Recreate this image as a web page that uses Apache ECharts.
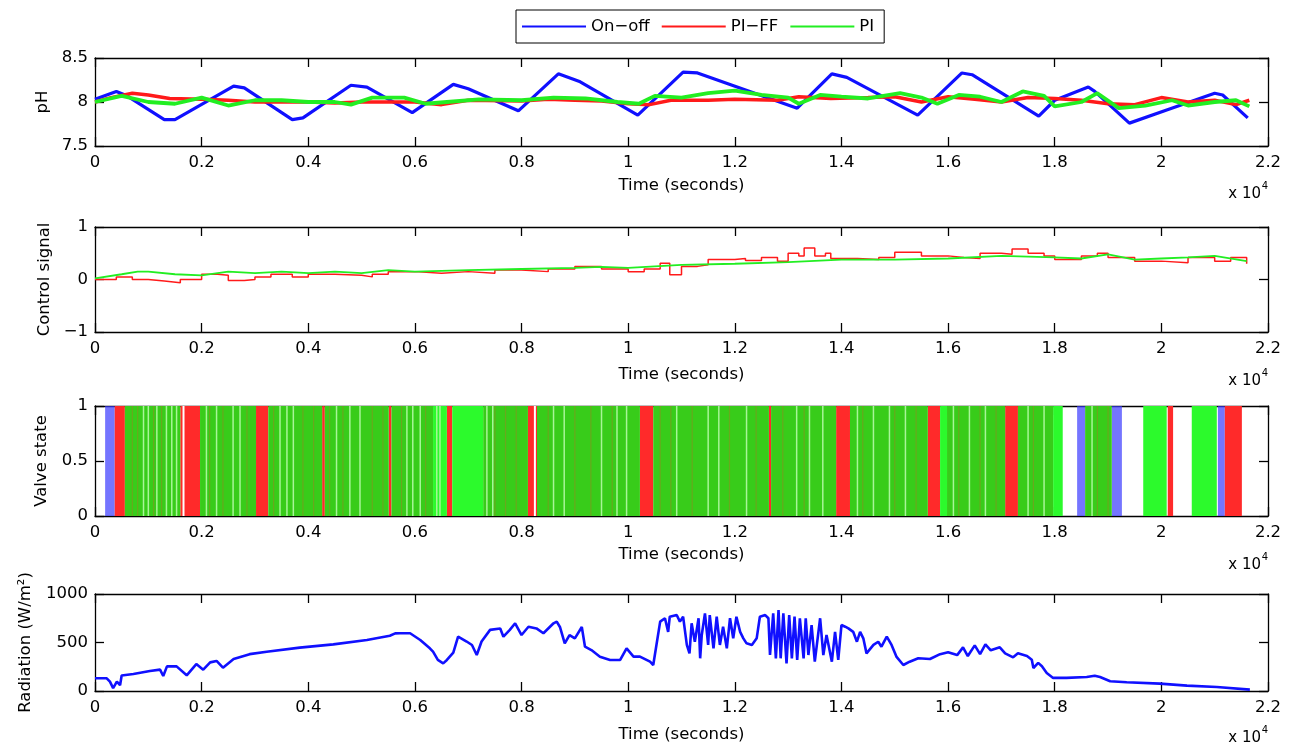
<!DOCTYPE html>
<html><head><meta charset="utf-8">
<script src="https://cdn.jsdelivr.net/npm/echarts@6/dist/echarts.min.js"></script>
<style>html,body{margin:0;padding:0;background:#fff}#c{width:1292px;height:748px}</style>
</head><body><div id="c"></div>
<script>
// ---------- DATA (time in units of 10^4 s) ----------
const seriesNames = ['On\u2212off', 'PI\u2212FF', 'PI'];
const xTickLabels = ['0','0.2','0.4','0.6','0.8','1','1.2','1.4','1.6','1.8','2','2.2'];

const phOnOff = [[0,8.03],[0.04,8.12],[0.06,8.07],[0.13,7.8],[0.15,7.8],[0.26,8.18],[0.28,8.16],[0.37,7.8],[0.39,7.82],[0.48,8.19],[0.51,8.17],[0.595,7.88],[0.672,8.2],[0.70,8.15],[0.794,7.9],[0.869,8.32],[0.91,8.23],[1.018,7.85],[1.103,8.34],[1.13,8.33],[1.317,7.93],[1.382,8.32],[1.41,8.28],[1.543,7.85],[1.626,8.33],[1.645,8.31],[1.77,7.84],[1.80,8.02],[1.863,8.17],[1.875,8.12],[1.94,7.76],[2.01,7.91],[2.10,8.1],[2.115,8.08],[2.162,7.82]];
const phPIFF = [[0,8.0],[0.03,8.05],[0.07,8.1],[0.1,8.08],[0.14,8.04],[0.2,8.03],[0.25,8.02],[0.3,8.0],[0.4,8.0],[0.45,7.99],[0.5,8.0],[0.6,8.0],[0.65,7.97],[0.7,8.02],[0.8,8.01],[0.85,8.03],[0.9,8.02],[0.95,8.01],[1.0,7.98],[1.04,7.97],[1.08,8.02],[1.15,8.02],[1.2,8.03],[1.28,8.02],[1.32,8.06],[1.38,8.04],[1.45,8.05],[1.5,8.06],[1.55,8.0],[1.6,8.06],[1.65,8.03],[1.7,8.0],[1.75,8.05],[1.8,8.04],[1.85,8.02],[1.9,7.98],[1.95,7.97],[2.0,8.05],[2.05,8.0],[2.1,8.02],[2.14,7.97],[2.165,8.02]];
const phPI = [[0,8.0],[0.05,8.07],[0.1,8.0],[0.15,7.98],[0.2,8.05],[0.25,7.96],[0.3,8.02],[0.35,8.02],[0.4,8.0],[0.45,8.0],[0.48,7.97],[0.52,8.05],[0.58,8.05],[0.62,7.98],[0.66,8.0],[0.72,8.03],[0.8,8.02],[0.86,8.05],[0.92,8.04],[0.98,8.0],[1.02,7.98],[1.05,8.07],[1.1,8.05],[1.15,8.1],[1.2,8.13],[1.25,8.08],[1.3,8.05],[1.32,7.98],[1.36,8.08],[1.4,8.06],[1.45,8.04],[1.51,8.1],[1.55,8.05],[1.58,7.98],[1.62,8.08],[1.66,8.06],[1.7,8.0],[1.74,8.12],[1.78,8.07],[1.8,7.95],[1.85,8.0],[1.88,8.1],[1.92,7.93],[1.97,7.96],[2.02,8.02],[2.05,7.96],[2.1,8.0],[2.14,8.02],[2.165,7.95]];

const ctrlPIFF = [[0,0.0],[0.04,0.05],[0.07,0.0],[0.1,-0.03],[0.13,-0.06],[0.16,0.0],[0.2,0.1],[0.23,0.08],[0.25,-0.02],[0.28,0.0],[0.3,0.05],[0.33,0.1],[0.37,0.05],[0.4,0.1],[0.45,0.08],[0.5,0.05],[0.52,0.1],[0.55,0.15],[0.6,0.12],[0.65,0.15],[0.7,0.12],[0.75,0.18],[0.8,0.15],[0.85,0.2],[0.9,0.25],[0.95,0.2],[1.0,0.15],[1.03,0.2],[1.06,0.31],[1.078,0.09],[1.1,0.25],[1.13,0.28],[1.15,0.38],[1.2,0.4],[1.22,0.36],[1.25,0.42],[1.28,0.35],[1.3,0.5],[1.32,0.45],[1.33,0.6],[1.35,0.45],[1.37,0.5],[1.38,0.4],[1.43,0.38],[1.47,0.42],[1.5,0.52],[1.55,0.45],[1.6,0.42],[1.63,0.4],[1.66,0.5],[1.7,0.48],[1.72,0.58],[1.75,0.5],[1.78,0.45],[1.8,0.38],[1.85,0.45],[1.88,0.5],[1.9,0.42],[1.95,0.35],[2.0,0.32],[2.05,0.42],[2.1,0.35],[2.13,0.42],[2.16,0.3]];
const ctrlPI = [[0,0.02],[0.05,0.1],[0.08,0.15],[0.1,0.15],[0.15,0.1],[0.2,0.08],[0.25,0.15],[0.3,0.12],[0.35,0.15],[0.4,0.12],[0.45,0.15],[0.5,0.12],[0.55,0.18],[0.6,0.15],[0.7,0.18],[0.8,0.2],[0.9,0.22],[0.95,0.24],[1.0,0.22],[1.1,0.28],[1.2,0.3],[1.3,0.33],[1.4,0.38],[1.5,0.38],[1.6,0.4],[1.7,0.45],[1.8,0.42],[1.85,0.4],[1.9,0.48],[1.95,0.38],[2.0,0.4],[2.05,0.42],[2.1,0.45],[2.16,0.35]];

// valve state: intervals [start, end] where the valve is switching (drawn as bands)
const valveOnOff = [[0.019,0.037],[1.842,1.857],[1.907,1.926],[2.106,2.119]];
const valvePIFF = [[0.037,0.056],[0.16,0.197],[0.302,0.325],[0.426,0.431],[0.551,0.556],[0.66,0.67],[0.68,0.683],[0.69,0.692],[0.698,0.701],[0.812,0.829],[1.022,1.047],[1.264,1.268],[1.39,1.416],[1.562,1.585],[1.707,1.731],[2.012,2.022],[2.119,2.151]];
const valvePIdense = [[0.056,0.16],[0.197,0.302],[0.325,0.426],[0.431,0.551],[0.556,0.634],[0.728,0.812],[0.829,1.022],[1.047,1.264],[1.268,1.39],[1.416,1.562],[1.598,1.707],[1.731,1.797],[1.857,1.907]];
const valvePIbright = [[0.634,0.66],[0.67,0.728],[1.585,1.598],[1.797,1.815],[1.966,2.01],[2.057,2.104]];
const valveLightStripes = [0.091,0.1,0.116,0.134,0.144,0.153,0.209,0.228,0.259,0.272,0.347,0.36,0.372,0.453,0.478,0.497,0.585,0.596,0.61,0.641,0.647,0.735,0.746,0.86,0.88,0.95,0.979,0.997,1.091,1.15,1.17,1.222,1.316,1.34,1.365,1.43,1.46,1.49,1.52,1.61,1.64,1.67,1.75,1.78,1.87];
const valveDarkStripes = [0.07,0.08,0.11,0.125,0.215,0.24,0.285,0.335,0.39,0.41,0.44,0.465,0.52,0.54,0.575,0.62,0.75,0.77,0.79,0.85,0.9,0.93,0.97,1.06,1.08,1.12,1.19,1.24,1.29,1.33,1.44,1.5,1.54,1.62,1.66,1.69,1.76,1.88,1.9];
const valveWhiteStripes = [0.166,0.825];

const radiation = [[0,131],[0.022,131],[0.028,96],[0.034,30],[0.041,96],[0.047,60],[0.05,160],[0.072,175],[0.103,206],[0.122,220],[0.128,155],[0.135,254],[0.153,254],[0.172,162],[0.19,278],[0.203,220],[0.216,295],[0.228,310],[0.24,240],[0.26,330],[0.29,380],[0.322,405],[0.384,447],[0.447,481],[0.51,526],[0.553,570],[0.563,594],[0.572,595],[0.591,595],[0.61,526],[0.628,440],[0.634,405],[0.643,320],[0.653,285],[0.66,320],[0.672,395],[0.681,560],[0.697,510],[0.707,474],[0.716,371],[0.725,510],[0.741,630],[0.76,645],[0.766,560],[0.778,630],[0.788,698],[0.8,577],[0.813,662],[0.828,645],[0.841,595],[0.86,698],[0.866,715],[0.872,660],[0.881,490],[0.89,577],[0.9,543],[0.913,660],[0.919,457],[0.931,422],[0.947,354],[0.966,320],[0.985,320],[0.997,440],[1.01,354],[1.022,355],[1.041,302],[1.047,268],[1.053,475],[1.06,715],[1.069,750],[1.075,610],[1.078,766],[1.091,783],[1.097,715],[1.103,766],[1.11,475],[1.115,388],[1.119,698],[1.125,508],[1.132,750],[1.135,337],[1.138,577],[1.144,800],[1.15,475],[1.153,783],[1.16,440],[1.166,766],[1.172,475],[1.178,663],[1.185,440],[1.191,750],[1.197,543],[1.203,766],[1.21,610],[1.216,543],[1.222,491],[1.232,475],[1.241,543],[1.247,766],[1.257,783],[1.263,750],[1.266,371],[1.272,800],[1.277,337],[1.282,834],[1.286,337],[1.291,800],[1.297,285],[1.302,783],[1.307,337],[1.312,766],[1.317,320],[1.322,750],[1.329,337],[1.333,750],[1.338,371],[1.344,680],[1.35,302],[1.36,750],[1.366,371],[1.372,577],[1.382,302],[1.388,610],[1.394,320],[1.4,680],[1.407,663],[1.413,646],[1.422,610],[1.429,508],[1.435,610],[1.441,543],[1.447,388],[1.46,475],[1.469,508],[1.475,457],[1.485,560],[1.494,475],[1.503,355],[1.516,268],[1.528,302],[1.544,337],[1.566,330],[1.585,380],[1.6,400],[1.617,370],[1.628,450],[1.637,360],[1.65,470],[1.66,380],[1.67,480],[1.68,420],[1.697,450],[1.707,388],[1.722,347],[1.731,388],[1.748,361],[1.757,323],[1.76,237],[1.769,290],[1.776,255],[1.785,186],[1.797,135],[1.822,135],[1.86,144],[1.875,158],[1.885,144],[1.904,100],[1.935,90],[1.997,76],[2.048,55],[2.104,41],[2.166,14]];

// ---------- LAYOUT / STYLE ----------
const FONT = 'DejaVu Sans, Verdana, sans-serif';
const FS = 16.5;
const BLUE = '#1010ff', RED = '#ff1a1a', GREEN = '#22ee22';
const grids = [
  {left:95, top:58, width:1173, height:88},
  {left:95, top:227, width:1173, height:105},
  {left:95, top:406, width:1173, height:110},
  {left:95, top:594, width:1173, height:97}
];
const yCfg = [
  {min:7.5, max:8.5, interval:0.5, name:'pH', gap:43, xgap:31},
  {min:-1, max:1, interval:1, name:'Control signal', gap:41, xgap:34},
  {min:0, max:1, interval:0.5, name:'Valve state', gap:45, xgap:30},
  {min:0, max:1000, interval:500, name:'Radiation (W/m\u00b2)', gap:61, xgap:35}
];
const axisLineStyle = {color:'#000', width:1.3};
const xAxes = [], yAxes = [];
grids.forEach((g,i)=>{
  const c = yCfg[i];
  xAxes.push({gridIndex:i, type:'value', min:0, max:2.2, interval:0.2, position:'bottom',
    axisLine:{show:true, onZero:false, lineStyle:axisLineStyle},
    axisTick:{show:true, inside:true, length:9, lineStyle:{color:'#000', width:1.3}},
    axisLabel:{color:'#000', fontFamily:FONT, fontSize:FS, margin:8, formatter:v=>xTickLabels[Math.round(v/0.2)]},
    splitLine:{show:false},
    name:'Time (seconds)', nameLocation:'middle', nameGap:c.xgap,
    nameTextStyle:{color:'#000', fontFamily:FONT, fontSize:FS}});
  xAxes.push({gridIndex:i, type:'value', min:0, max:2.2, interval:0.2, position:'top',
    axisLine:{show:true, onZero:false, lineStyle:axisLineStyle},
    axisTick:{show:true, inside:true, length:9, lineStyle:{color:'#000', width:1.3}},
    axisLabel:{show:false}, splitLine:{show:false}});
  yAxes.push({gridIndex:i, type:'value', min:c.min, max:c.max, interval:c.interval, position:'left',
    axisLine:{show:true, onZero:false, lineStyle:axisLineStyle},
    axisTick:{show:true, inside:true, length:9, lineStyle:{color:'#000', width:1.3}},
    axisLabel:{color:'#000', fontFamily:FONT, fontSize:FS, margin:7, formatter:v=>String(v).replace('-','\u2212')},
    splitLine:{show:false},
    name:c.name, nameLocation:'middle', nameGap:c.gap, nameRotate:90,
    nameTextStyle:{color:'#000', fontFamily:FONT, fontSize:FS}});
  yAxes.push({gridIndex:i, type:'value', min:c.min, max:c.max, interval:c.interval, position:'right',
    axisLine:{show:true, onZero:false, lineStyle:axisLineStyle},
    axisTick:{show:true, inside:true, length:9, lineStyle:{color:'#000', width:1.3}},
    axisLabel:{show:false}, splitLine:{show:false}});
});

function lineSeries(name, data, color, gi, width, step){
  return {name, type:'line', data, xAxisIndex:2*gi, yAxisIndex:2*gi, symbol:'none', step:step||false,
    lineStyle:{color, width}, itemStyle:{color}, clip:true, animation:false};
}
function bandSeries(name, data, color, opacity){
  return {name, type:'custom', xAxisIndex:4, yAxisIndex:4, data, clip:true, animation:false,
    encode:{x:[0,1]},
    renderItem:(params, api)=>{
      const a = api.coord([api.value(0), 1]), b = api.coord([api.value(1), 0]);
      return {type:'rect', shape:{x:a[0], y:a[1], width:Math.max(b[0]-a[0],1), height:b[1]-a[1]},
        style:{fill:color, opacity:opacity||1}};
    }};
}
function stripeSeries(name, data, color, w){
  return {name, type:'custom', xAxisIndex:4, yAxisIndex:4, data:data.map(v=>[v]), clip:true, animation:false,
    encode:{x:0},
    renderItem:(params, api)=>{
      const a = api.coord([api.value(0), 1]), b = api.coord([api.value(0), 0]);
      return {type:'rect', shape:{x:a[0]-w/2, y:a[1], width:w, height:b[1]-a[1]}, style:{fill:color}};
    }};
}

const series = [
  lineSeries(seriesNames[0], phOnOff, BLUE, 0, 3.2),
  lineSeries(seriesNames[1], phPIFF, RED, 0, 3.5),
  lineSeries(seriesNames[2], phPI, GREEN, 0, 3.8),
  lineSeries(seriesNames[1], ctrlPIFF, RED, 1, 1.5, 'end'),
  lineSeries(seriesNames[2], ctrlPI, GREEN, 1, 1.8),
  bandSeries('vb', valveOnOff, '#3a3aff', 0.7),
  bandSeries('vr', valvePIFF, '#ff2a2a'),
  bandSeries('vg', valvePIdense, '#38cc1a'),
  bandSeries('vgb', valvePIbright, '#2cfa2c'),
  stripeSeries('vds', valveDarkStripes, '#6aa81e', 1.2),
  stripeSeries('vls', valveLightStripes, '#a8f598', 1.5),
  stripeSeries('vws', valveWhiteStripes, '#ffffff', 2),
  lineSeries('Radiation', radiation, BLUE, 3, 2.6)
];

// "x 10^4" exponent labels, drawn as base text plus a raised superscript
const expLabel = (top)=>[
  {type:'text', right:31, top, style:{text:'x 10', fontFamily:FONT, fontSize:15, fill:'#000'}},
  {type:'text', right:24, top:top-6, style:{text:'4', fontFamily:FONT, fontSize:10, fill:'#000'}}
];

const chart = echarts.init(document.getElementById('c'), null, {renderer:'canvas'});
chart.setOption({
  animation:false,
  backgroundColor:'#fff',
  grid:grids,
  xAxis:xAxes, yAxis:yAxes,
  legend:{data:seriesNames, left:516, top:10, orient:'horizontal', icon:'rect', itemWidth:64, itemHeight:2,
    itemGap:12, padding:[8,10,8,6], borderColor:'#000', borderWidth:1,
    textStyle:{color:'#000', fontFamily:FONT, fontSize:FS}, selectedMode:false},
  series,
  graphic:[].concat(expLabel(187), expLabel(374), expLabel(558), expLabel(731))
});
</script></body></html>
